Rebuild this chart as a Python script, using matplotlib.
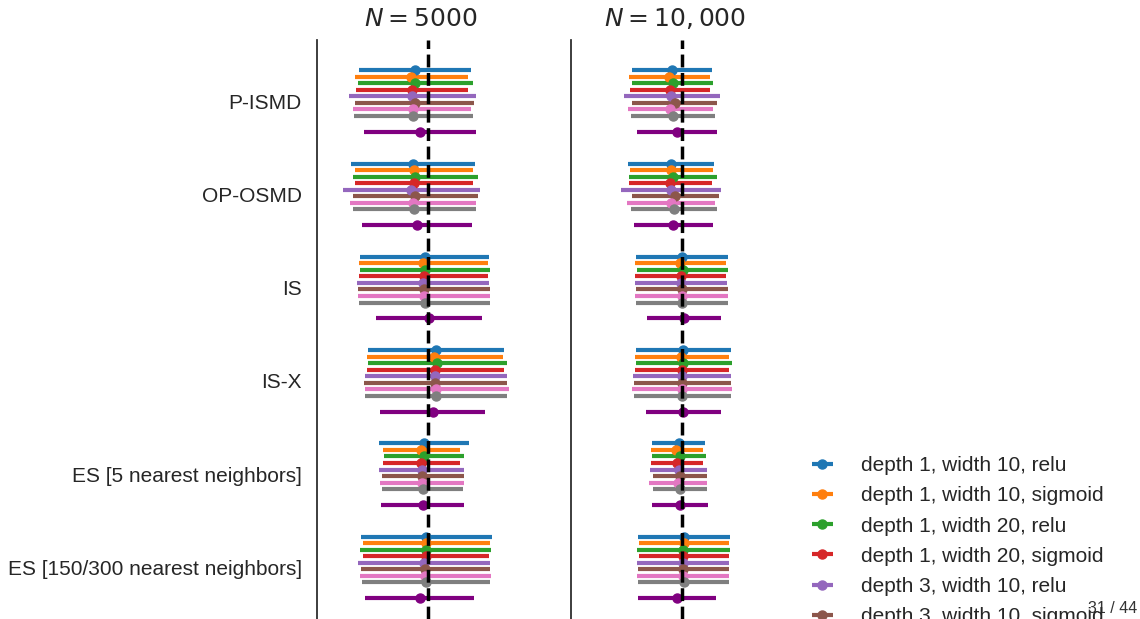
import numpy as np
import matplotlib.pyplot as plt

plt.rcParams['font.family'] = ['Liberation Sans', 'DejaVu Sans']

methods = ['P-ISMD', 'OP-OSMD', 'IS', 'IS-X', 'ES [5 nearest neighbors]',
           'ES [150/300 nearest neighbors]']
panel_titles = ['$N = 5000$', '$N = 10,000$']
legend_labels = ['depth 1, width 10, relu', 'depth 1, width 10, sigmoid',
                 'depth 1, width 20, relu', 'depth 1, width 20, sigmoid',
                 'depth 3, width 10, relu', 'depth 3, width 10, sigmoid']
colors = ['#1f77b4', '#ff7f0e', '#2ca02c', '#d62728', '#9467bd', '#8c564b',
          '#e377c2', '#7f7f7f', 'purple']
truth = 0.0

# N = 5000 : one row per method, 9 estimators each
lo_5000 = [[-0.69, -0.73, -0.70, -0.72, -0.79, -0.73, -0.75, -0.74, -0.64],
           [-0.77, -0.73, -0.75, -0.73, -0.85, -0.75, -0.78, -0.75, -0.66],
           [-0.68, -0.69, -0.68, -0.69, -0.71, -0.70, -0.70, -0.69, -0.52],
           [-0.60, -0.61, -0.60, -0.61, -0.63, -0.64, -0.63, -0.63, -0.48],
           [-0.49, -0.45, -0.44, -0.45, -0.49, -0.46, -0.48, -0.46, -0.47],
           [-0.67, -0.65, -0.68, -0.65, -0.70, -0.67, -0.68, -0.66, -0.63]]
mid_5000 = [[-0.13, -0.17, -0.13, -0.16, -0.16, -0.13, -0.15, -0.15, -0.08],
            [-0.15, -0.14, -0.13, -0.14, -0.17, -0.13, -0.15, -0.14, -0.11],
            [-0.03, -0.05, -0.03, -0.04, -0.05, -0.04, -0.04, -0.03, 0.01],
            [0.08, 0.06, 0.09, 0.07, 0.07, 0.07, 0.08, 0.08, 0.05],
            [-0.04, -0.07, -0.04, -0.07, -0.06, -0.06, -0.06, -0.05, -0.05],
            [-0.02, -0.02, -0.02, -0.02, -0.04, -0.03, -0.03, -0.02, -0.08]]
hi_5000 = [[0.43, 0.40, 0.45, 0.40, 0.48, 0.46, 0.43, 0.45, 0.48],
           [0.47, 0.45, 0.50, 0.45, 0.52, 0.50, 0.48, 0.48, 0.44],
           [0.61, 0.60, 0.62, 0.60, 0.61, 0.62, 0.62, 0.62, 0.54],
           [0.76, 0.75, 0.79, 0.76, 0.79, 0.79, 0.81, 0.79, 0.57],
           [0.41, 0.32, 0.36, 0.32, 0.36, 0.36, 0.36, 0.35, 0.36],
           [0.64, 0.62, 0.63, 0.61, 0.62, 0.62, 0.63, 0.62, 0.46]]

# N = 10,000
lo_10000 = [[-0.50, -0.53, -0.50, -0.52, -0.58, -0.50, -0.54, -0.51, -0.45],
            [-0.54, -0.52, -0.53, -0.53, -0.61, -0.50, -0.55, -0.51, -0.48],
            [-0.46, -0.47, -0.45, -0.47, -0.47, -0.46, -0.47, -0.46, -0.35],
            [-0.46, -0.47, -0.46, -0.47, -0.49, -0.48, -0.50, -0.48, -0.36],
            [-0.30, -0.31, -0.30, -0.31, -0.32, -0.29, -0.33, -0.29, -0.30],
            [-0.44, -0.43, -0.45, -0.43, -0.45, -0.44, -0.45, -0.44, -0.44]]
mid_10000 = [[-0.10, -0.13, -0.09, -0.12, -0.11, -0.07, -0.12, -0.09, -0.05],
             [-0.11, -0.11, -0.09, -0.12, -0.11, -0.07, -0.11, -0.08, -0.09],
             [0.00, -0.02, 0.01, -0.01, -0.01, 0.00, 0.00, 0.00, 0.02],
             [0.01, -0.01, 0.01, 0.00, 0.00, 0.00, 0.00, 0.00, 0.01],
             [-0.03, -0.06, -0.02, -0.05, -0.03, -0.02, -0.04, -0.02, -0.02],
             [0.02, 0.02, 0.01, 0.01, 0.01, 0.01, 0.01, 0.02, -0.05]]
hi_10000 = [[0.30, 0.28, 0.31, 0.28, 0.38, 0.35, 0.31, 0.33, 0.35],
            [0.32, 0.31, 0.35, 0.30, 0.39, 0.37, 0.33, 0.35, 0.31],
            [0.46, 0.44, 0.46, 0.44, 0.45, 0.46, 0.46, 0.46, 0.39],
            [0.49, 0.47, 0.50, 0.47, 0.49, 0.49, 0.50, 0.49, 0.39],
            [0.23, 0.21, 0.24, 0.21, 0.25, 0.25, 0.25, 0.25, 0.26],
            [0.48, 0.47, 0.48, 0.47, 0.47, 0.47, 0.47, 0.47, 0.34]]

panels = [(lo_5000, mid_5000, hi_5000), (lo_10000, mid_10000, hi_10000)]
# vertical offset of each estimator inside a method group
offsets = [-0.33 + 0.07 * k for k in range(8)] + [0.33]

fig = plt.figure(figsize=(11.4, 6.19), dpi=100)
ax1 = fig.add_axes([0.2781, 0.0, 0.1825, 0.9354])
ax2 = fig.add_axes([0.5009, 0.0, 0.1825, 0.9354])

handles = []
for ax, title, (lo, mid, hi) in zip([ax1, ax2], panel_titles, panels):
    lo, mid, hi = np.array(lo), np.array(mid), np.array(hi)
    for k in range(9):
        ys = np.arange(len(methods)) + offsets[k]
        eb = ax.errorbar(mid[:, k], ys, xerr=[mid[:, k] - lo[:, k], hi[:, k] - mid[:, k]],
                         fmt='o', color=colors[k], ms=6.5, elinewidth=3, capsize=0,
                         zorder=2)
        if ax is ax1:
            handles.append(eb)
    ax.axvline(truth, color='k', ls='--', lw=2.5, zorder=3)
    ax.set_xlim(-1.11, 0.97)
    ax.set_ylim(5.552, -0.654)
    ax.set_title(title, fontsize=18, color='.15', pad=10)
    for s in ['top', 'right', 'bottom']:
        ax.spines[s].set_visible(False)
    ax.spines['left'].set_color('.15')
    ax.spines['left'].set_linewidth(1.25)
    ax.set_xticks([])
    ax.set_yticks(range(len(methods)))
    ax.tick_params(axis='y', length=0, pad=11, labelsize=15, labelcolor='.15')

ax1.set_yticklabels(methods)
ax2.set_yticklabels([])

fig.legend(handles[:6], legend_labels, loc='upper left',
           bbox_to_anchor=(0.7123, 0.2633), frameon=False, fontsize=15,
           borderpad=0, borderaxespad=0, handlelength=1.0, handletextpad=1.35,
           labelspacing=0.54, labelcolor='.15')

fig.text(0.9975, 0.0097, '31 / 44', ha='right', va='baseline', fontsize=11.5,
         color='.2')

fig.savefig('out.png', dpi=100)
